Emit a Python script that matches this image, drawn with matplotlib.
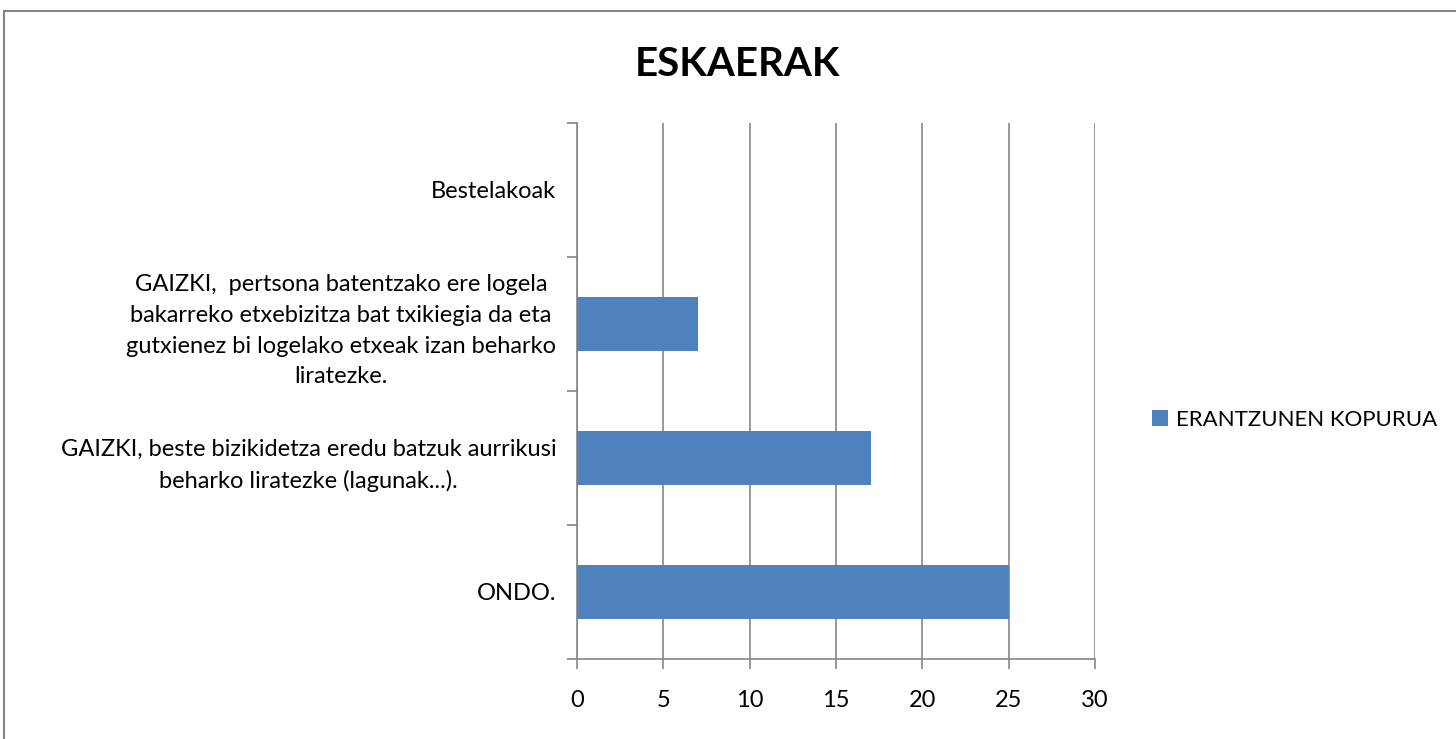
import matplotlib.pyplot as plt
from matplotlib.patches import Rectangle

categories = [
    "ONDO.",
    "GAIZKI, beste bizikidetza eredu batzuk aurrikusi\nbeharko liratezke (lagunak...).",
    "GAIZKI,  pertsona batentzako ere logela\nbakarreko etxebizitza bat txikiegia da eta\ngutxienez bi logelako etxeak izan beharko\nliratezke.",
    "Bestelakoak",
]
values = [25, 17, 7, 0]
series_name = "ERANTZUNEN KOPURUA"
xticks = [0, 5, 10, 15, 20, 25, 30]

plt.rcParams['font.family'] = ['Lato', 'DejaVu Sans']
gray = '#868686'

fig = plt.figure(figsize=(14.56, 7.39), dpi=100)
# chart border
fig.patches.append(Rectangle((4 / 1456, -0.05), 1.1, 1.05 - 11 / 739, transform=fig.transFigure,
                             fill=False, edgecolor=gray, linewidth=1.5))

ax = fig.add_axes([577 / 1456, 1 - 659 / 739, (1095 - 577) / 1456, (659 - 123) / 739])
pos = list(range(len(categories)))
ax.barh(pos, values, height=0.4, color='#4F81BD', label=series_name, zorder=3)

ax.set_xlim(0, 30)
ax.set_ylim(-0.5, len(categories) - 0.5)
ax.set_xticks(xticks)
ax.set_yticks([p - 0.5 for p in pos] + [len(categories) - 0.5])
ax.set_yticklabels([])
ax.set_yticks(pos, minor=True)
ax.set_yticklabels(categories, minor=True, fontsize=17, ha='right', multialignment='center',
                   linespacing=1.56)
ax.tick_params(axis='y', which='minor', length=0, pad=15)
ax.tick_params(axis='y', which='major', length=7, color=gray, width=1.2)
ax.tick_params(axis='x', length=7, color=gray, width=1.2, labelsize=17, pad=15)
ax.xaxis.grid(True, color=gray, linewidth=1.2, zorder=0)

for side in ['top', 'right']:
    ax.spines[side].set_visible(False)
for side in ['left', 'bottom']:
    ax.spines[side].set_color(gray)
    ax.spines[side].set_linewidth(1.2)

fig.text(737 / 1456, 1 - 64 / 739, "ESKAERAK", fontsize=29, fontweight='bold', ha='center', va='center')

fig.legend(loc='center left', bbox_to_anchor=(1132 / 1456, 1 - 420 / 739), frameon=False,
           fontsize=16, handlelength=0.7, handleheight=0.7, handletextpad=0.4)

fig.savefig("out.png", dpi=100)
